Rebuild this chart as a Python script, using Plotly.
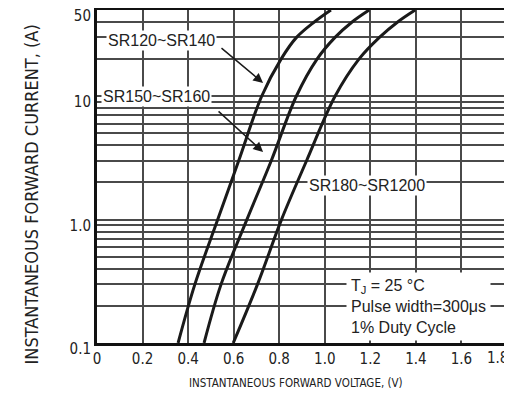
import plotly.graph_objects as go
import math

# Forward current (A) sample points
current = [0.1, 0.3, 1.0, 3.0, 10.0, 20.0, 30.0, 40.0, 50.0]
# Forward voltage (V) for each series
v_sr120_140 = [0.356, 0.43, 0.53, 0.622, 0.723, 0.808, 0.876, 0.954, 1.027]
v_sr150_160 = [0.47, 0.545, 0.658, 0.765, 0.875, 0.966, 1.045, 1.12, 1.195]
v_sr180_1200 = [0.598, 0.705, 0.81, 0.92, 1.045, 1.15, 1.24, 1.32, 1.397]

x_ticks = [0, 0.2, 0.4, 0.6, 0.8, 1.0, 1.2, 1.4, 1.6, 1.8]
x_tick_labels = ["0", "0.2", "0.4", "0.6", "0.8", "1.0", "1.2", "1.4", "1.6", ""]
last_x_label = "1.8"
y_grid = [0.1, 0.2, 0.3, 0.4, 0.5, 0.6, 0.7, 0.8, 0.9, 1, 2, 3, 4, 5, 6, 7, 8, 9, 10, 20, 30, 40, 50]
y_labels = {0.1: "0.1", 1: "1.0", 10: "10", 50: "50"}
y_tick_labels = [y_labels.get(v, "") for v in y_grid]

COND = "DejaVu Sans Condensed, Liberation Sans Narrow, Arial Narrow, sans-serif"
REG = "Liberation Sans, Arial"

# page has an 8px body margin; plot area must land at x 97..507, y 10..343
OFF = 8
PL, PR, PT, PB = 97, 507, 10, 343

fig = go.Figure()
for v in (v_sr120_140, v_sr150_160, v_sr180_1200):
    fig.add_trace(go.Scatter(x=v, y=current, mode="lines",
                             line=dict(color="#1a1a1a", width=3, shape="spline", smoothing=1.0),
                             showlegend=False, hoverinfo="skip"))

ann = []
# curve labels
ann.append(dict(x=0.281, y=1.448, xref="x", yref="y", text="SR120~SR140", showarrow=False,
                bgcolor="white", font=dict(family=REG, size=16, color="#222"), borderpad=1))
ann.append(dict(x=0.263, y=0.994, xref="x", yref="y", text="SR150~SR160", showarrow=False,
                bgcolor="white", font=dict(family=REG, size=16, color="#222"), borderpad=1))
ann.append(dict(x=1.185, y=0.273, xref="x", yref="y", text="SR180~SR1200", showarrow=False,
                bgcolor="white", font=dict(family=REG, size=16, color="#222"), borderpad=1))
# arrows
ann.append(dict(x=0.729, y=math.log10(12.8), ax=0.540, ay=math.log10(25.1), xref="x", yref="y",
                axref="x", ayref="y", text="", showarrow=True, arrowhead=2, arrowsize=1.3,
                arrowwidth=1.5, arrowcolor="#1a1a1a"))
ann.append(dict(x=0.729, y=math.log10(3.53), ax=0.527, ay=math.log10(7.74), xref="x", yref="y",
                axref="x", ayref="y", text="", showarrow=True, arrowhead=2, arrowsize=1.3,
                arrowwidth=1.5, arrowcolor="#1a1a1a"))
# conditions box
ann.append(dict(x=1.093, y=-0.704, xref="x", yref="y", xanchor="left", yanchor="middle", align="left",
                text="T<sub>J</sub> = 25 °C<br>Pulse width=300μs<br>1% Duty Cycle", showarrow=False,
                bgcolor="white", borderpad=4, font=dict(family=REG, size=16, color="#222")))
# last x tick label (squeezed against the right edge, as in the original)
ann.append(dict(x=(510 - PL) / (PR - PL), y=(PB - 358) / (PB - PT), xref="paper", yref="paper",
                xanchor="right", yanchor="middle", text=last_x_label, showarrow=False,
                font=dict(family=COND, size=15, color="#222")))
# axis titles
ann.append(dict(x=(18 - PL) / (PR - PL), y=(PB - 195) / (PB - PT), xref="paper", yref="paper", textangle=-90,
                text="INSTANTANEOUS FORWARD CURRENT, (A)", showarrow=False,
                font=dict(family=COND, size=18, color="#222")))
ann.append(dict(x=(296 - PL) / (PR - PL), y=(PB - 392) / (PB - PT), xref="paper", yref="paper",
                text="INSTANTANEOUS FORWARD VOLTAGE, (V)", showarrow=False,
                font=dict(family=COND, size=11.5, color="#222")))

W, H = 512 - OFF, 409 - 2 * OFF
fig.update_layout(
    width=W, height=H,
    margin=dict(l=PL - OFF, r=W + OFF - PR, t=PT - OFF, b=H + OFF - PB, pad=0),
    paper_bgcolor="white", plot_bgcolor="white",
    annotations=ann,
    xaxis=dict(range=[0, 1.8], tickvals=x_ticks, ticktext=x_tick_labels, automargin=False,
               ticklabeloverflow="allow",
               showgrid=True, gridcolor="#4a4a4a", gridwidth=1.5,
               showline=True, linecolor="#111", linewidth=3, mirror=True,
               zeroline=False, ticks="", tickfont=dict(family=COND, size=15, color="#222")),
    yaxis=dict(type="log", range=[-1, math.log10(50)], tickvals=y_grid, ticktext=y_tick_labels,
               automargin=False, ticklabeloverflow="allow", ticklabelshift=6,
               showgrid=True, gridcolor="#4a4a4a", gridwidth=1.5,
               showline=True, linecolor="#111", linewidth=3, mirror=True,
               zeroline=False, ticks="", tickfont=dict(family=COND, size=15, color="#222")),
)

fig.write_html("out.html")
